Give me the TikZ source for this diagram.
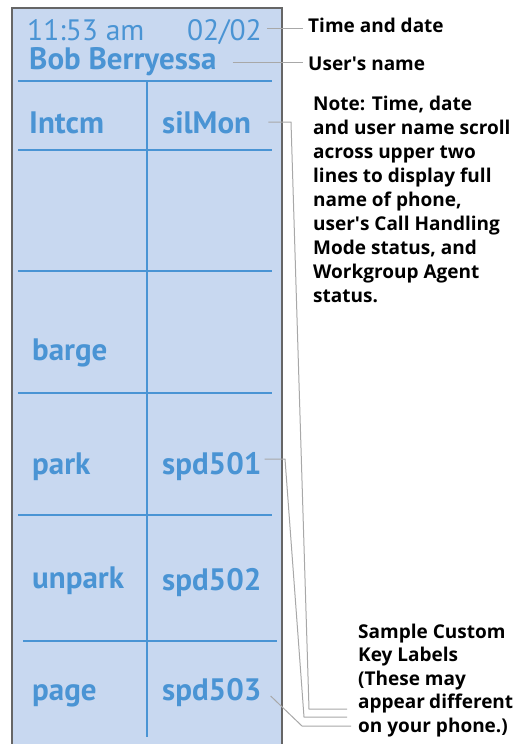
\documentclass[tikz,border=0pt]{standalone}
\usepackage{fontspec}
\setmainfont{Open Sans}
\newfontfamily\lcdfont{PT Sans}
\definecolor{lcdfill}{HTML}{C8D8F0}
\definecolor{lcdblue}{HTML}{4A94D4}
\definecolor{rim}{HTML}{666666}
\definecolor{leadgray}{HTML}{A8A8A8}

\begin{document}
\begin{tikzpicture}
    [x=1pt,y=-1pt,
     clock/.style={anchor=base west,inner sep=0pt,text=lcdblue,font=\lcdfont\fontsize{29.5}{29.5}\selectfont},
     keylabel/.style={anchor=base west,inner sep=0pt,text=lcdblue,font=\lcdfont\bfseries\fontsize{31}{31}\selectfont},
     callout/.style={anchor=base west,inner sep=0pt,font=\bfseries\fontsize{19}{24}\selectfont},
     cellline/.style={lcdblue,line width=1.8pt},
     leader/.style={leadgray,line width=1pt}]
  \useasboundingbox (0,0) rectangle (515,744);
  % display panel
  \fill[lcdfill] (12,8) rectangle (282,744);
  \draw[rim,line width=1.5pt] (12,744) -- (12,8) -- (282,8) -- (282,744);
  \foreach \y in {81,150,271,393,515}
    \draw[cellline] (18,\y) -- (272,\y);
  \draw[cellline] (23,641) -- (277,641);
  \draw[cellline] (147,81) -- (147,737);
  % upper two lines
  \node[clock] (time) at (27,40) {11:53 am};
  \node[clock,anchor=base east] (date) at (262,40) {02/02};
  \node[keylabel] (user) at (29,69) {Bob Berryessa};
  % soft keys
  \node[keylabel] (intcm) at (29,133) {Intcm};
  \node[keylabel] (silmon) at (162,133) {silMon};
  \node[keylabel] (barge) at (32,360) {barge};
  \node[keylabel] (park) at (32,474) {park};
  \node[keylabel] (spd501) at (162,474) {spd501};
  \node[keylabel] (unpark) at (32,588) {unpark};
  \node[keylabel] (spd502) at (162,590) {spd502};
  \node[keylabel] (page) at (32,700) {page};
  \node[keylabel] (spd503) at (162,700) {spd503};
  % callouts
  \node[callout] (timedate) at (308,32) {Time and date};
  \node[callout] (username) at (308,70) {User\textquotesingle s name};
  \node[callout] (note) at (313,110) {\parbox[t]{200pt}{\baselineskip=24pt
    Note: Time, date\\ and user name scroll\\ across upper two\\ lines to display full\\
    name of phone,\\ user\textquotesingle s Call Handling\\ Mode status, and\\ Workgroup Agent\\ status.}};
  \node[callout] (sample) at (358,638) {\parbox[t]{155pt}{\baselineskip=23.5pt
    Sample Custom\\ Key Labels\\ (These may\\ appear different\\ on your phone.)}};
  % leaders
  \coordinate (dateend) at ([shift={(5pt,12pt)}]date.base east);
  \coordinate (userend) at ([shift={(16pt,7pt)}]user.base east);
  \draw[leader,shorten >=5pt] (dateend) -- (dateend -| timedate.west);
  \draw[leader,shorten >=5pt] (userend) -- (userend -| username.west);
  \coordinate (kbend1) at (291,122);
  \coordinate (kfoot1) at (309,709);
  \coordinate (kbend2) at (285,459);
  \coordinate (kfoot2) at (304,717);
  \coordinate (kfoot3) at (302,726);
  \draw[leader,shorten >=11pt] ([shift={(17pt,11pt)}]silmon.base east)
    -- (kbend1) -- (kfoot1) -- (kfoot1 -| sample.west);
  \draw[leader,shorten >=11pt] ([shift={(3pt,15pt)}]spd501.base east)
    -- (kbend2) -- (kfoot2) -- (kfoot2 -| sample.west);
  \draw[leader,shorten >=7pt] ([shift={(9pt,4pt)}]spd503.base east)
    -- (kfoot3) -- (kfoot3 -| sample.west);
\end{tikzpicture}
\end{document}
